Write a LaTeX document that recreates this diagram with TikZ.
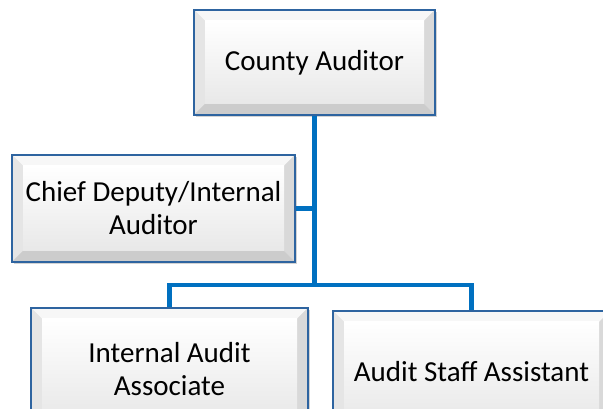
\documentclass[tikz,border=0pt]{standalone}
\usepackage{fontspec}
\setmainfont{Carlito}
\usetikzlibrary{shadows,calc}
\definecolor{boxblue}{RGB}{46,100,160}
\definecolor{linkblue}{RGB}{0,112,192}
\tikzset{
  orgbox/.style={draw=boxblue, line width=1.5pt, fill=gray!20, inner sep=0pt, align=center,
    font=\fontsize{29}{33}\selectfont, text=black,
    drop shadow={shadow xshift=2pt,shadow yshift=-2pt,opacity=0.35},
    path picture={
      \coordinate (bsw) at (path picture bounding box.south west);
      \coordinate (bne) at (path picture bounding box.north east);
      \coordinate (bnw) at (bsw |- bne);
      \coordinate (bse) at (bsw -| bne);
      \coordinate (isw) at ($(bsw)+(11pt,11pt)$);
      \coordinate (ine) at ($(bne)+(-11pt,-11pt)$);
      \coordinate (inw) at (isw |- ine);
      \coordinate (ise) at (isw -| ine);
      \fill[gray!6] (bnw) -- (bne) -- (ine) -- (inw) -- cycle;
      \fill[gray!20] (bnw) -- (bsw) -- (isw) -- (inw) -- cycle;
      \fill[gray!30] (bne) -- (bse) -- (ise) -- (ine) -- cycle;
      \fill[gray!40] (bsw) -- (bse) -- (ise) -- (isw) -- cycle;
      \shade[top color=white, bottom color=gray!18] (isw) rectangle (ine);
    }},
  link/.style={draw=linkblue, line width=4.5pt}
}
\begin{document}
\begin{tikzpicture}[x=1pt,y=1pt]
\useasboundingbox (0,0) rectangle (603,409);
\node[orgbox, minimum width=241pt, minimum height=105pt] (county) at (314.5,346.5) {County Auditor};
\node[orgbox, minimum width=283pt, minimum height=107pt] (chief) at (153.5,200.5) {Chief Deputy/Internal\\Auditor};
\node[orgbox, minimum width=277pt, minimum height=122pt] (assoc) at (169.5,40) {Internal Audit\\Associate};
\node[orgbox, minimum width=277pt, minimum height=122pt] (staff) at (471.5,37) {Audit Staff Assistant};
\coordinate (split) at (county.south |- 0,124);
\draw[link] (county.south) -- (split);
\draw[link] (chief.east) -- (chief.east -| county.south);
\draw[link] (assoc.north) |- (split) -| (staff.north);
\end{tikzpicture}
\end{document}
